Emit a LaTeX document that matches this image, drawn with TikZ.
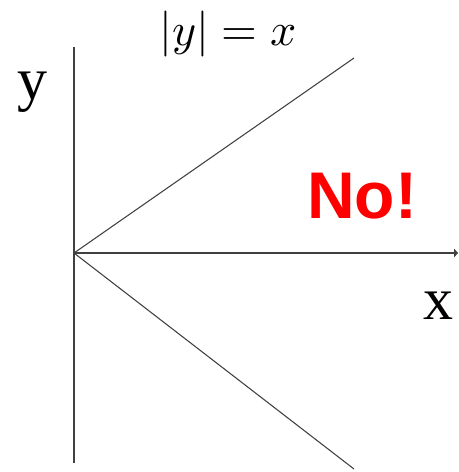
\documentclass[tikz,border=0pt]{standalone}
\usepackage{amsmath}
\usepackage{fontspec}
\usepackage{unicode-math}
\setmathfont{Latin Modern Math}
\usepackage{xcolor}
\usetikzlibrary{arrows.meta}
\newfontfamily\serifrm{Liberation Serif}
\newfontfamily\sansbf{Liberation Sans}

\begin{document}
\begin{tikzpicture}[
  x=0.75pt, y=-0.75pt,
  axis/.style={line width=1.1pt, black!75},
  branch/.style={line width=0.8pt, black!75},
  axlbl/.style={inner sep=0pt, anchor=base, font=\fontsize{45}{45}\serifrm},
  eqlbl/.style={inner sep=0pt, anchor=base, font=\fontsize{34.5}{34.5}\selectfont},
  nolbl/.style={inner sep=0pt, anchor=base, text=red, font=\fontsize{49.5}{49.5}\sansbf\bfseries},
]
  \useasboundingbox (0,0) rectangle (458,472);

  \coordinate (origin) at (74,253);
  \coordinate (ytop) at (74,47);
  \coordinate (ybot) at (74,463);
  \coordinate (xend) at (458,253);
  \coordinate (upend) at (354,58);
  \coordinate (lowend) at (354,469);

  % axes
  \draw[axis] (ybot) -- (ytop);
  \draw[axis, -{Triangle[length=3pt, width=6.5pt]}] (origin) -- (xend);

  % the two branches
  \draw[branch] (origin) -- (upend);
  \draw[branch] (origin) -- (lowend);

  \node[axlbl] (ylabel) at (32,99) {y};
  \node[axlbl] (xlabel) at (438,319) {x};
  \node[eqlbl] (eq) at (228,45) {$|y| = x$};
  \node[nolbl] (no) at (362,218) {No!};
\end{tikzpicture}
\end{document}
